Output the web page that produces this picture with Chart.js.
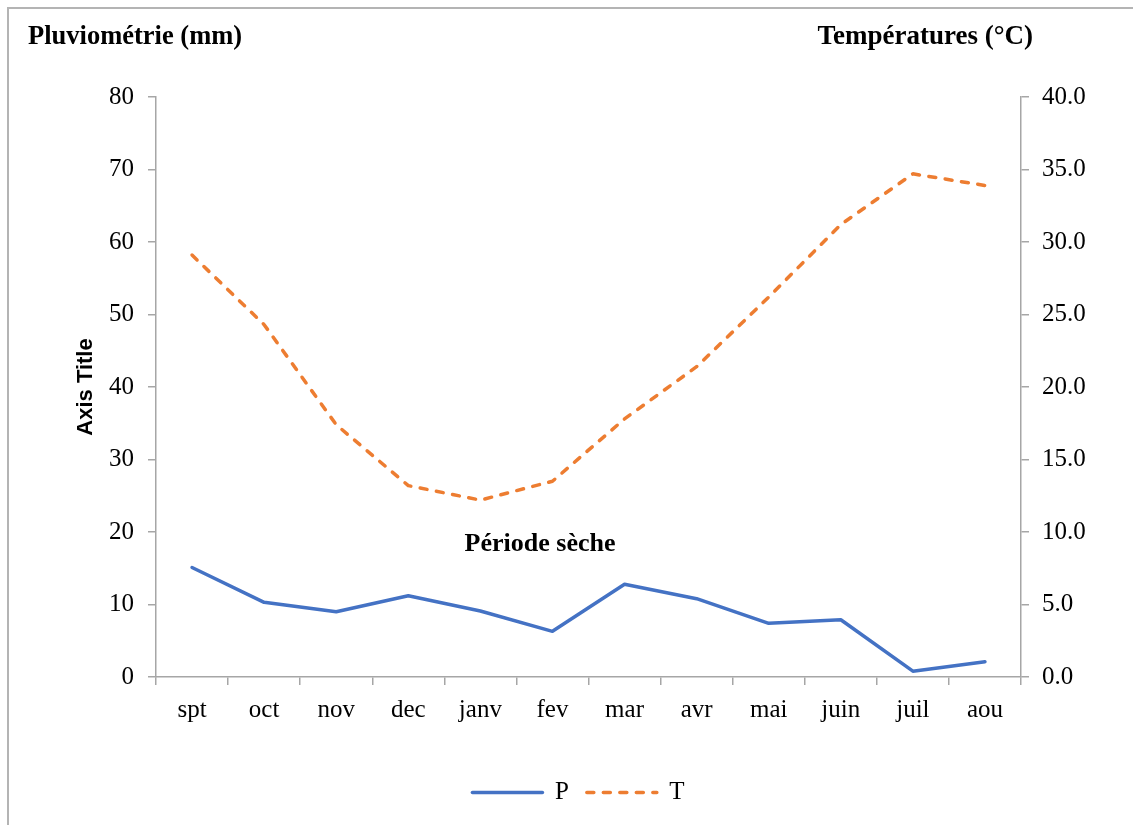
<!DOCTYPE html>
<html lang="fr">
<head>
    <meta charset="UTF-8">
    <title>Pluviométrie et températures</title>
    <script src="https://cdn.jsdelivr.net/npm/chart.js"></script>
    <style>
        html, body { margin: 0; padding: 0; background: #fff; overflow: hidden; }
        #frame { position: absolute; left: 7px; top: 7px; width: 1300px; height: 1000px;
                 border-left: 2px solid #b4b4b4; border-top: 2px solid #b4b4b4; }
        #chartContainer { position: absolute; left: 0; top: 0; width: 1133px; height: 825px; }
    </style>
</head>
<body>
    <div id="frame"></div>
    <div id="chartContainer">
        <canvas id="climChart"></canvas>
    </div>

    <script>
        const months = ['spt', 'oct', 'nov', 'dec', 'janv', 'fev', 'mar', 'avr', 'mai', 'juin', 'juil', 'aou'];
        const rainfall = [15.1, 10.3, 9.0, 11.2, 9.1, 6.3, 12.8, 10.8, 7.4, 7.9, 0.8, 2.1];      // P (mm)
        const temperature = [29.1, 24.3, 17.4, 13.2, 12.2, 13.5, 17.8, 21.4, 26.2, 31.2, 34.7, 33.9]; // T (°C)

        const serif = "'Liberation Serif', 'Times New Roman', serif";
        const axisGray = '#a6a6a6';

        // titles above both axes, the rotated left title and the dry-season note
        const extraText = {
            id: 'extraText',
            afterDraw(chart) {
                const { ctx, chartArea } = chart;
                ctx.save();
                ctx.fillStyle = '#000';
                ctx.textBaseline = 'alphabetic';
                ctx.font = `bold 26.5px ${serif}`;
                ctx.textAlign = 'left';
                ctx.fillText('Pluviométrie (mm)', 28, 44);
                ctx.font = `bold 27px ${serif}`;
                ctx.textAlign = 'right';
                ctx.fillText('Températures (°C)', 1033, 44);

                ctx.font = `bold 26px ${serif}`;
                ctx.textAlign = 'center';
                ctx.textBaseline = 'middle';
                ctx.fillText('Période sèche', chartArea.left + chartArea.width * 0.444, 544);

                ctx.translate(86, (chartArea.top + chartArea.bottom) / 2);
                ctx.rotate(-Math.PI / 2);
                ctx.font = "bold 22px 'Liberation Sans', Arial, sans-serif";
                ctx.fillText('Axis Title', 0, 0);
                ctx.restore();
            }
        };

        // legend samples take their stroke from the dataset (dash, width, caps)
        function legendLabels(chart) {
            const items = Chart.defaults.plugins.legend.labels.generateLabels(chart);
            items.forEach(item => {
                const ds = chart.data.datasets[item.datasetIndex];
                item.lineDash = ds.borderDash || [];
                item.lineWidth = ds.borderWidth;
                item.lineCap = ds.borderCapStyle;
                item.strokeStyle = ds.borderColor;
                item.fillStyle = ds.borderColor;
            });
            return items;
        }

        function initChart() {
            const ctx = document.getElementById('climChart').getContext('2d');
            new Chart(ctx, {
                type: 'line',
                data: {
                    labels: months,
                    datasets: [{
                        label: 'P',
                        data: rainfall,
                        borderColor: '#4472C4',
                        backgroundColor: '#4472C4',
                        borderWidth: 3.5,
                        borderCapStyle: 'round',
                        borderJoinStyle: 'round',
                        yAxisID: 'yP',
                        tension: 0
                    }, {
                        label: 'T',
                        data: temperature,
                        borderColor: '#ED7D31',
                        backgroundColor: '#ED7D31',
                        borderWidth: 3.5,
                        borderDash: [7, 9.5],
                        borderCapStyle: 'round',
                        borderJoinStyle: 'round',
                        yAxisID: 'yT',
                        tension: 0
                    }]
                },
                options: {
                    responsive: false,
                    animation: false,
                    layout: { padding: { top: 97, left: 24, right: 0, bottom: 10 } },
                    elements: { point: { radius: 0, hoverRadius: 0 } },
                    plugins: {
                        tooltip: { enabled: false },
                        legend: {
                            position: 'bottom',
                            labels: {
                                usePointStyle: true,
                                pointStyle: 'line',
                                pointStyleWidth: 70,
                                boxHeight: 4,
                                padding: 18,
                                color: '#000',
                                font: { family: serif, size: 25 },
                                generateLabels: legendLabels
                            }
                        }
                    },
                    scales: {
                        x: {
                            offset: true,
                            grid: { offset: true, drawOnChartArea: false, color: axisGray, lineWidth: 1.5, tickLength: 8 },
                            border: { color: axisGray, width: 1.5 },
                            ticks: { color: '#000', padding: 10, maxRotation: 0, font: { family: serif, size: 25 } },
                            afterFit(scale) { scale.height = 85; }
                        },
                        yP: {
                            position: 'left',
                            min: 0,
                            max: 80,
                            grid: { drawOnChartArea: false, color: axisGray, lineWidth: 1.5, tickLength: 8 },
                            border: { color: axisGray, width: 1.5 },
                            ticks: { stepSize: 10, color: '#000', padding: 14, font: { family: serif, size: 25 } },
                            afterFit(scale) { scale.width = 132; }
                        },
                        yT: {
                            position: 'right',
                            min: 0,
                            max: 40,
                            grid: { drawOnChartArea: false, color: axisGray, lineWidth: 1.5, tickLength: 8 },
                            border: { color: axisGray, width: 1.5 },
                            ticks: {
                                stepSize: 5,
                                color: '#000',
                                padding: 13,
                                font: { family: serif, size: 25 },
                                callback: v => v.toFixed(1)
                            },
                            afterFit(scale) { scale.width = 112; }
                        }
                    }
                },
                plugins: [extraText]
            });
        }

        document.addEventListener('DOMContentLoaded', () => {
            const canvas = document.getElementById('climChart');
            canvas.width = 1133;
            canvas.height = 825;
            initChart();
        });
    </script>
</body>
</html>
